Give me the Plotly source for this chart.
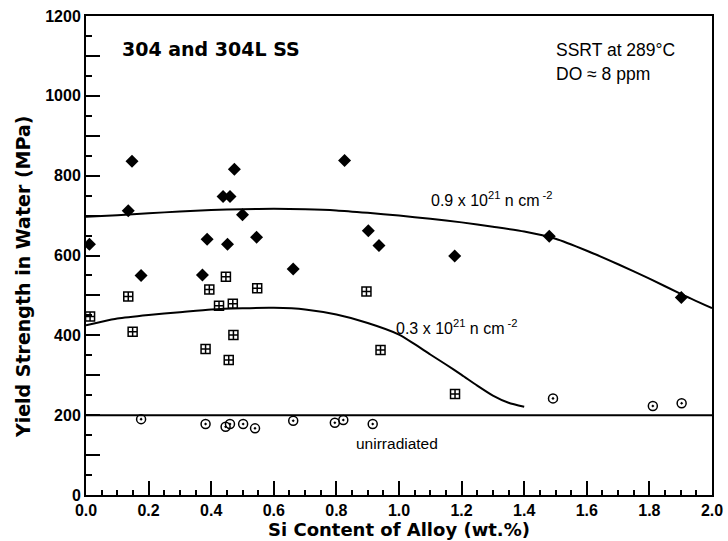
import plotly.graph_objects as go

# ---- data ----
# 0.9 x 10^21 n/cm2 irradiated (filled diamonds)
hi_si = [0.011, 0.135, 0.147, 0.176, 0.372, 0.387, 0.438, 0.460, 0.452, 0.474,
         0.500, 0.545, 0.662, 0.826, 0.902, 0.936, 1.178, 1.480, 1.902]
hi_ys = [628, 712, 836, 550, 551, 641, 748, 748, 628, 816,
         702, 646, 566, 838, 662, 625, 599, 648, 495]

# 0.3 x 10^21 n/cm2 irradiated (squares with cross)
lo_si = [0.013, 0.135, 0.149, 0.382, 0.394, 0.425, 0.447, 0.456, 0.469, 0.471,
         0.547, 0.896, 0.941, 1.179]
lo_ys = [447, 497, 409, 366, 515, 474, 547, 338, 479, 401,
         518, 510, 363, 253]

# unirradiated (circles with dot)
un_si = [0.176, 0.382, 0.446, 0.460, 0.502, 0.540, 0.662, 0.795, 0.822, 0.916,
         1.492, 1.811, 1.903]
un_ys = [190, 178, 171, 178, 178, 167, 186, 181, 188, 178,
         242, 223, 230]

# trend curves
hi_curve_x = [0, 0.1, 0.2, 0.3, 0.4, 0.5, 0.6, 0.7, 0.8, 0.9, 1.0, 1.1, 1.2,
              1.3, 1.4, 1.5, 1.6, 1.7, 1.8, 1.9, 2.0]
hi_curve_y = [697, 701, 706, 710, 714, 716, 717, 716, 713, 707, 700, 692, 683,
              672, 660, 642, 612, 578, 542, 504, 468]

lo_curve_x = [0, 0.05, 0.1, 0.2, 0.3, 0.4, 0.5, 0.6, 0.7, 0.8, 0.9, 1.0, 1.05,
              1.1, 1.15, 1.2, 1.25, 1.3, 1.35, 1.4]
lo_curve_y = [425, 434, 442, 451, 458, 465, 468, 469, 465, 452, 431, 402, 378,
              352, 327, 301, 274, 249, 231, 221]

un_curve_x = [0.0, 2.0]
un_curve_y = [200, 200]

# ---- figure ----
fig = go.Figure()
fig.add_trace(go.Scatter(x=hi_curve_x, y=hi_curve_y, mode="lines",
                         line=dict(color="black", width=2, shape="spline", smoothing=0.6),
                         hoverinfo="skip"))
fig.add_trace(go.Scatter(x=lo_curve_x, y=lo_curve_y, mode="lines",
                         line=dict(color="black", width=2, shape="spline", smoothing=0.6),
                         hoverinfo="skip"))
# unirradiated reference line (drawn on the overlay axis that carries the 100-MPa ticks)
fig.add_trace(go.Scatter(x=un_curve_x, y=un_curve_y, mode="lines", yaxis="y2",
                         line=dict(color="black", width=2), hoverinfo="skip"))
fig.add_trace(go.Scatter(x=hi_si, y=hi_ys, mode="markers",
                         marker=dict(symbol="diamond", size=10, color="black",
                                     line=dict(width=0))))
fig.add_trace(go.Scatter(x=lo_si, y=lo_ys, mode="markers",
                         marker=dict(symbol="square-cross-open", size=9, color="black",
                                     line=dict(width=1.5, color="black"))))
fig.add_trace(go.Scatter(x=un_si, y=un_ys, mode="markers",
                         marker=dict(symbol="circle-open-dot", size=9, color="black",
                                     line=dict(width=1.5, color="black"))))

tickfont = dict(family="Liberation Sans, Arial, sans-serif", size=16, color="black",
                weight="bold")
titlefont = dict(family="DejaVu Sans, sans-serif", size=18, color="black", weight="bold")

fig.update_layout(
    width=728, height=541,
    margin=dict(l=86, r=16, t=16, b=46),
    paper_bgcolor="white", plot_bgcolor="white",
    showlegend=False,
    xaxis=dict(
        range=[0, 2.0], dtick=0.2, tickformat=".1f", automargin=False,
        ticks="inside", ticklen=14, tickwidth=1.5, tickcolor="black",
        minor=dict(dtick=0.05, ticks="inside", ticklen=5, tickwidth=1.5, tickcolor="black"),
        showgrid=False, zeroline=False,
        showline=True, linecolor="black", linewidth=2, mirror=True,
        tickfont=tickfont,
        title=dict(text="Si Content of Alloy (wt.%)", font=titlefont, standoff=4),
    ),
    yaxis=dict(
        range=[0, 1200], dtick=200, automargin=False,
        ticks="inside", ticklen=14, tickwidth=1.5, tickcolor="black",
        minor=dict(dtick=50, ticks="inside", ticklen=6, tickwidth=1.5, tickcolor="black"),
        showgrid=False, zeroline=False,
        showline=True, linecolor="black", linewidth=2, mirror=True,
        tickfont=tickfont,
    ),
    yaxis2=dict(
        range=[0, 1200], dtick=100, overlaying="y", side="left", anchor="x",
        automargin=False, showticklabels=False,
        ticks="inside", ticklen=14, tickwidth=1.5, tickcolor="black",
        showgrid=False, zeroline=False, showline=False,
    ),
)

# y-axis title placed as a rotated annotation (sits lower than the axis centre)
fig.add_annotation(x=-0.1006, y=0.455, xref="paper", yref="paper",
                   text="Yield Strength in Water (MPa)", textangle=-90,
                   showarrow=False, xanchor="center", yanchor="middle",
                   font=dict(family="DejaVu Sans, sans-serif", size=19, color="black",
                             weight="bold"))

reg = dict(family="Liberation Sans, Arial, sans-serif", color="black")
fig.add_annotation(x=0.108, y=1118, xref="x", yref="y", text="304 and 304L SS",
                   showarrow=False, xanchor="left", yanchor="middle",
                   font=dict(family="DejaVu Sans, sans-serif", size=19, color="black",
                             weight="bold"))
fig.add_annotation(x=1.495, y=1115, xref="x", yref="y", text="SSRT at 289°C",
                   showarrow=False, xanchor="left", yanchor="middle",
                   font=dict(size=17.5, **reg))
fig.add_annotation(x=1.495, y=1055, xref="x", yref="y", text="DO ≈ 8 ppm",
                   showarrow=False, xanchor="left", yanchor="middle",
                   font=dict(size=17.5, **reg))
fig.add_annotation(x=1.096, y=742, xref="x", yref="y",
                   text="0.9 x 10<sup>21</sup> n cm<sup> -2</sup>",
                   showarrow=False, xanchor="left", yanchor="middle",
                   font=dict(size=16, **reg))
fig.add_annotation(x=0.984, y=422, xref="x", yref="y",
                   text="0.3 x 10<sup>21</sup> n cm<sup> -2</sup>",
                   showarrow=False, xanchor="left", yanchor="middle",
                   font=dict(size=16, **reg))
fig.add_annotation(x=0.994, y=129, xref="x", yref="y", text="unirradiated",
                   showarrow=False, xanchor="center", yanchor="middle",
                   font=dict(size=15.5, **reg))

fig.write_html("out.html",
               config={"displayModeBar": False},
               post_script="document.body.style.margin='0px';"
                           "document.body.style.overflow='hidden';")
